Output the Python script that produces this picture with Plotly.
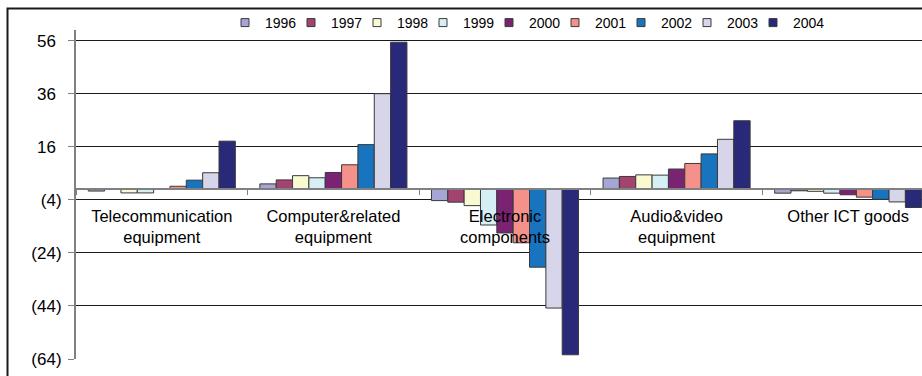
import plotly.graph_objects as go

# Product groups along the category axis
categories = [
    "Telecommunication<br>equipment",
    "Computer&related<br>equipment",
    "Electronic<br>components",
    "Audio&video<br>equipment",
    "Other ICT goods",
]

years = ["1996", "1997", "1998", "1999", "2000", "2001", "2002", "2003", "2004"]

# Values per year, one entry per product group (same order as categories)
v1996 = [-0.7, 2.0, -4.3, 4.2, -1.5]
v1997 = [0.0, 3.5, -4.9, 4.8, -0.6]
v1998 = [-1.4, 5.1, -6.2, 5.4, -0.8]
v1999 = [-1.4, 4.3, -13.5, 5.3, -1.5]
v2000 = [0.2, 6.3, -16.5, 7.6, -2.1]
v2001 = [1.1, 9.2, -20.2, 9.7, -3.0]
v2002 = [3.4, 16.8, -29.4, 13.3, -3.8]
v2003 = [6.2, 36.0, -44.8, 18.8, -4.8]
v2004 = [18.1, 55.4, -62.4, 25.8, -6.9]
series = [v1996, v1997, v1998, v1999, v2000, v2001, v2002, v2003, v2004]

colors = ["#A6A6D6", "#A2446F", "#FAFAD2", "#D6EFF4", "#7B2373",
          "#F4918A", "#1874BE", "#D6D5EA", "#29297A"]

# Y axis ticks, negatives shown in parentheses
y_ticks = [-64, -44, -24, -4, 16, 36, 56]
y_labels = ["(64)", "(44)", "(24)", "(4)", "16\u2004", "36\u2004", "56\u2004"]

Y_MIN, Y_MAX = -64, 60
FONT = "Liberation Sans, Arial, sans-serif"

fig = go.Figure()

for yr, vals, col in zip(years, series, colors):
    fig.add_trace(go.Bar(
        x=categories, y=vals, name=yr,
        marker=dict(color=col, line=dict(color="#3a3a3a", width=1)),
        showlegend=False,
    ))

# Small square swatches for the legend
for yr, col in zip(years, colors):
    fig.add_trace(go.Scatter(
        x=[None], y=[None], mode="markers", name=yr,
        marker=dict(symbol="square", size=8, color=col,
                    line=dict(color="#3a3a3a", width=1)),
    ))
# blank trailing entry so the last legend label has room
fig.add_trace(go.Scatter(
    x=[None], y=[None], mode="markers", name=" ",
    marker=dict(size=1, color="rgba(0,0,0,0)"),
))

L, T, B = 76, 30, 17
W, H = 922, 376
pw = W - L
ph = H - T - B

fig.update_layout(
    width=W, height=H,
    margin=dict(l=L, r=0, t=T, b=B),
    paper_bgcolor="white", plot_bgcolor="white",
    barmode="group", bargap=1.5 / 10.5, bargroupgap=0,
    font=dict(family=FONT, color="black"),
    legend=dict(
        orientation="h", x=(240 - L) / pw, xanchor="left",
        y=1 + (T - 23) / ph, yanchor="middle",
        font=dict(size=14, family=FONT), entrywidth=36,
        indentation=-15,
        bgcolor="rgba(0,0,0,0)", borderwidth=0,
    ),
    xaxis=dict(
        type="category", range=[-0.5, -0.5 + pw / 171.6],
        anchor="free", position=(0 - Y_MIN) / (Y_MAX - Y_MIN),
        showline=True, linecolor="#808080", linewidth=1.5,
        ticks="outside", tickson="boundaries", ticklen=5, tickcolor="#808080",
        ticklabelstandoff=12,
        tickfont=dict(size=16.5, family=FONT, color="black"),
        showgrid=False, zeroline=False,
    ),
    yaxis=dict(
        range=[Y_MIN, Y_MAX], tickvals=y_ticks, ticktext=y_labels,
        showgrid=True, gridcolor="#1a1a1a", gridwidth=1,
        zeroline=False,
        showline=True, linecolor="#808080", linewidth=2,
        ticks="outside", ticklen=6, tickcolor="#808080",
        ticklabelstandoff=3,
        tickfont=dict(size=17, family=FONT, color="black"),
    ),
    shapes=[dict(
        type="rect", xref="paper", yref="paper",
        x0=(7.5 - L) / pw, x1=1.2, y0=-0.3, y1=1 + (T - 8.5) / ph,
        line=dict(color="#1a1a1a", width=2), fillcolor="rgba(0,0,0,0)",
        layer="above",
    )],
)

fig.write_html("out.html")
